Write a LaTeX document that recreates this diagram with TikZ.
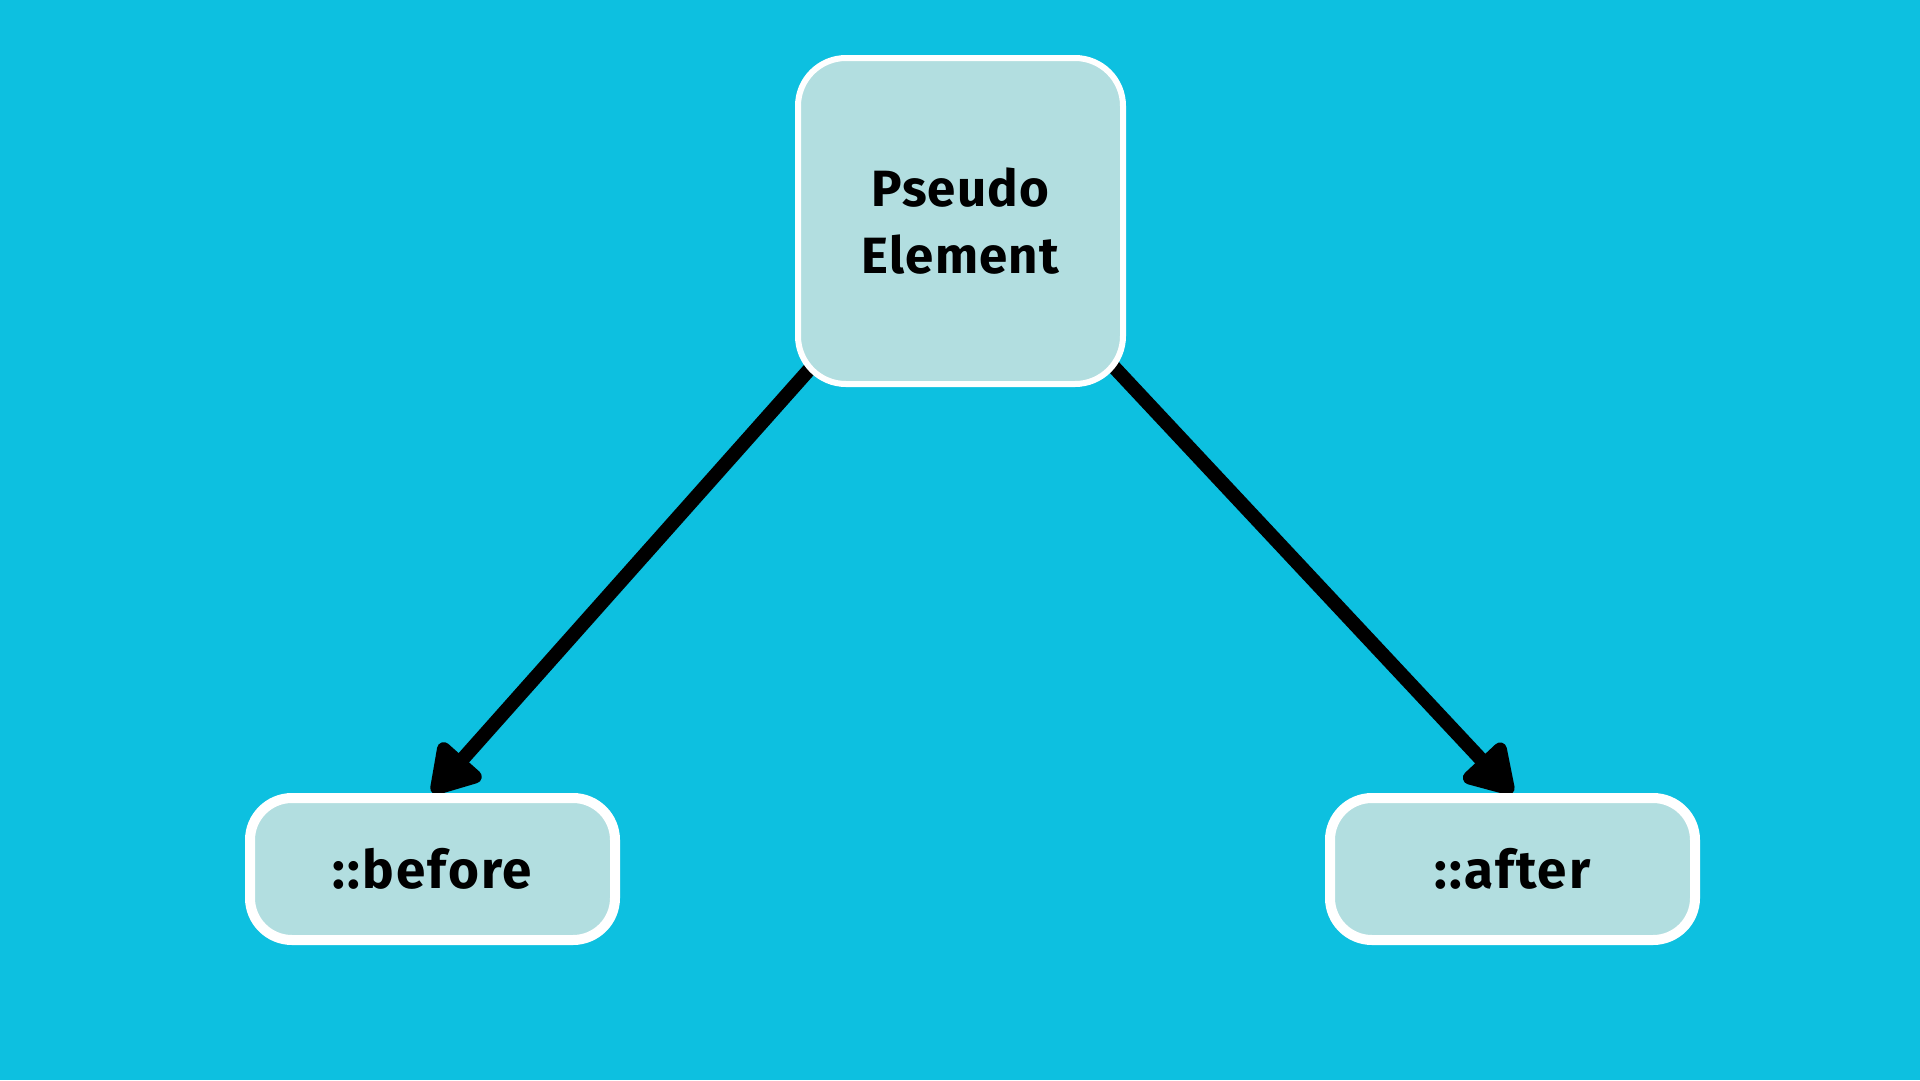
\documentclass[tikz,border=0pt]{standalone}
\usepackage{fontspec}
\setmainfont{Fira Sans}
\usetikzlibrary{arrows.meta}
\definecolor{bgblue}{HTML}{0DC0E0}
\definecolor{boxfill}{HTML}{B2DEE0}
\pgfdeclarelayer{bg}
\pgfsetlayers{bg,main}
\begin{document}
\begin{tikzpicture}[x=1pt,y=-1pt,
  box/.style={draw=white, fill=boxfill, text=black, align=center, inner sep=0pt},
  small/.style={box, line width=10pt, rounded corners=42pt, minimum width=365pt, minimum height=142pt,
    font=\fontsize{53}{60}\selectfont\bfseries\addfontfeature{LetterSpace=4}},
  conn/.style={line width=14pt, draw=black, -{Triangle[round,length=54pt,width=62pt]}}]
\useasboundingbox (0,0) rectangle (1920,1080);
\node[box, line width=6pt, rounded corners=48pt, minimum width=325pt, minimum height=326pt,
  font=\fontsize{51}{67}\selectfont\bfseries\addfontfeature{LetterSpace=2.5}] (top) at (960.5,221) {Pseudo\\Element};
\node[small] (before) at (432.5,869) {::before};
\node[small] (after) at (1512.5,869) {::after};
\coordinate (sL) at (840,335);
\coordinate (sR) at (1084,335);
\begin{pgfonlayer}{bg}
\fill[bgblue] (0,0) rectangle (1920,1080);
\draw[conn] (sL) -- (before.north);
\draw[conn] (sR) -- (after.north);
\end{pgfonlayer}
\end{tikzpicture}
\end{document}
